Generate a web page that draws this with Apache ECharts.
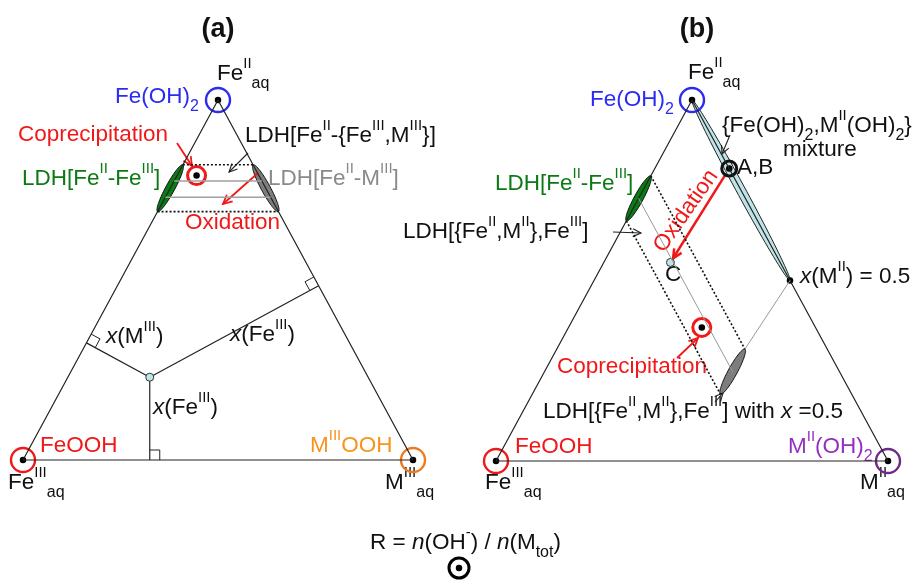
<!DOCTYPE html>
<html><head><meta charset="utf-8">
<script src="https://cdn.jsdelivr.net/npm/echarts@6/dist/echarts.min.js"></script>
<style>html,body{margin:0;padding:0;background:#fff}#c{width:919px;height:585px}</style>
</head><body><div id="c"></div>
<script>
// ---------- DATA (ternary compositions: [Fe(II) top, Fe(III) left, M right]) ----------
const triangle = [[1,0,0],[0,1,0],[0,0,1],[1,0,0]];
const vertices = [[1,0,0],[0,1,0],[0,0,1]];
// panel (a)
const aMixPoint = [0.23, 0.56, 0.21];
const aDottedLevels = [0.82, 0.69];
const aGrayLevels = [0.775, 0.73];
const aLdhFeFe = [[0.82,0.18,0],[0.69,0.31,0]];
const aLdhFeM = [[0.82,0,0.18],[0.69,0,0.31]];
const aCoprecip = [0.79,0.16,0.05];
// panel (b)
const bMixtureBand = [[1,0,0],[0.5,0,0.5]];
const bAB = [0.81,0,0.19];
const bC = [0.55,0.28,0.17];
const bCoprecip = [0.37,0.29,0.34];
const bHalf = [0.5,0,0.5];
const bLdhFeFe = [[0.79,0.21,0],[0.665,0.335,0]];
const bLdhX05 = [[0.31,0.21,0.48],[0.185,0.335,0.48]];
const bFeIIIFractions = [0.21, 0.335];
const bMidFraction = 0.2725;
const bX05 = 0.48;
// texts
const labelTexts = [
  '{t|(a)}',
  'Fe{sup|II}{sub|aq}',
  'Fe(OH){sub|2}',
  'Coprecipitation',
  'LDH[Fe{sup|II}-{n|{}Fe{sup|III},M{sup|III}}]',
  'LDH[Fe{sup|II}-Fe{sup|III}]',
  'LDH[Fe{sup|II}-M{sup|III}]',
  'Oxidation',
  '{i|x}(M{sup|III})',
  '{i|x}(Fe{sup|III})',
  '{i|x}(Fe{sup|III})',
  'FeOOH',
  'M{sup|III}OOH',
  'Fe{sup|III}{sub|aq}',
  'M{sup|III}{sub|aq}',
  '{t|(b)}',
  'Fe{sup|II}{sub|aq}',
  'Fe(OH){sub|2}',
  '{n|{}Fe(OH){sub|2},M{sup|II}(OH){sub|2}}',
  'mixture',
  'A,B',
  'LDH[Fe{sup|II}-Fe{sup|III}]',
  'LDH[{n|{}Fe{sup|II},M{sup|II}},Fe{sup|III}]',
  'Oxidation',
  'C',
  '{i|x}(M{sup|II}) = 0.5',
  'Coprecipitation',
  'LDH[{n|{}Fe{sup|II},M{sup|II}},Fe{sup|III}] with {i|x} =0.5',
  'FeOOH',
  'M{sup|II}(OH){sub|2}',
  'Fe{sup|III}{sub|aq}',
  'M{sup|II}{sub|aq}',
  'R = {i|n}(OH{sup|-}) / {i|n}(M{sub2|tot})'
];

// ---------- LAYOUT / STYLE ----------
const F = "'Liberation Sans', Arial, Helvetica, sans-serif";
const RED='#f01818', BLUE='#2b2bf2', GREEN='#0c7a14', GRAY='#8a8a8a', ORANGE='#f7941d', PURPLE='#9430c0', BLACK='#111';
const labelLayout = [
  [218,30,BLACK,'center'],
  [217,74,BLACK],[115,97,BLUE],[18,135,RED],[245,136,BLACK],[22,179,GREEN],[268,179,GRAY],[185,223,RED],
  [106,337,BLACK],[230,335,BLACK],[153,408,BLACK],[40,446,RED],[310,446,ORANGE],[8,483,BLACK],[385,483,BLACK],
  [697,30,BLACK,'center'],
  [688,73,BLACK],[590,100,BLUE],[722,126,BLACK],[783,150,BLACK],[737,168,BLACK],[495,184,GREEN],[403,232,BLACK],
  [686,211,RED,'center',55],[665,275,BLACK],[800,277,BLACK],[557,367,RED],[543,412,BLACK],
  [515,447,RED],[788,447,PURPLE],[485,483,BLACK],[860,483,BLACK],[370,543,BLACK]
];
const FS = 22.5;
function makeRich(color){
  return {
    sup:{fontFamily:F,fontSize:15,lineHeight:24.5,verticalAlign:'top',fill:color},
    sub:{fontFamily:F,fontSize:16,lineHeight:9.5,verticalAlign:'bottom',fill:color},
    sub2:{fontFamily:F,fontSize:16,lineHeight:19.5,verticalAlign:'bottom',fill:color},
    i:{fontFamily:F,fontSize:FS,fontStyle:'italic',fill:color},
    n:{fontFamily:F,fontSize:FS,fill:color},
    t:{fontFamily:F,fontSize:27,fontWeight:'bold',fill:color}
  };
}
const arrowsBlack = [[248,153,229,172],[730,135,722,154],[613,232,641,233],[715,402,723,393]];
const arrowsRed = [[177,143,192,166],[258,173,223,204],[677,358,698,338]];

const tern = c => [c[2] + 0.5*c[0], c[0]];

function lineS(g, comps, ls){
  return {type:'line', xAxisIndex:g, yAxisIndex:g, data:comps.map(tern), symbol:'none', clip:false, silent:true, lineStyle:ls};
}
function ellipseS(g, ends, hw, fill, stroke, lw){
  return {type:'custom', xAxisIndex:g, yAxisIndex:g, clip:false, silent:true,
    data:[[...tern(ends[0]), ...tern(ends[1])]],
    renderItem(p, api){
      const a=api.coord([api.value(0),api.value(1)]), b=api.coord([api.value(2),api.value(3)]);
      const cx=(a[0]+b[0])/2, cy=(a[1]+b[1])/2, dx=b[0]-a[0], dy=b[1]-a[1];
      const len=Math.hypot(dx,dy), ux=dx/len, uy=dy/len, vx=-uy, vy=ux;
      const pts=[];
      for(let k=0;k<90;k++){const t=k/90*2*Math.PI; const c=Math.cos(t)*len/2, s=Math.sin(t)*hw; pts.push([cx+c*ux+s*vx, cy+c*uy+s*vy]);}
      return {type:'polygon', shape:{points:pts}, style:{fill, stroke, lineWidth:lw}};
    }};
}
function ringS(g, pts, size, color, bw, fill){
  return {type:'scatter', xAxisIndex:g, yAxisIndex:g, clip:false, silent:true, data:pts,
    symbol:'circle', symbolSize:size, itemStyle:{color:fill||'rgba(255,255,255,0)', borderColor:color, borderWidth:bw, opacity:1}};
}
function arrowS(g, list, color, lw, head, shrinkA, shrinkB){
  return {type:'custom', xAxisIndex:g, yAxisIndex:g, clip:false, silent:true, data:list,
    renderItem(p, api){
      let a=api.coord([api.value(0),api.value(1)]), b=api.coord([api.value(2),api.value(3)]);
      const ang=Math.atan2(b[1]-a[1], b[0]-a[0]);
      if(shrinkA){a=[a[0]+shrinkA*Math.cos(ang), a[1]+shrinkA*Math.sin(ang)];}
      if(shrinkB){b=[b[0]-shrinkB*Math.cos(ang), b[1]-shrinkB*Math.sin(ang)];}
      const s=0.45;
      const p1=[b[0]-head*Math.cos(ang-s), b[1]-head*Math.sin(ang-s)], p2=[b[0]-head*Math.cos(ang+s), b[1]-head*Math.sin(ang+s)];
      return {type:'group', children:[
        {type:'line', shape:{x1:a[0],y1:a[1],x2:b[0],y2:b[1]}, style:{stroke:color, lineWidth:lw}},
        {type:'polyline', shape:{points:[p1,b,p2]}, style:{stroke:color, lineWidth:lw, fill:null}}]};
    }};
}

const series = [];
// ----- panel (a) -----
series.push(lineS(0, triangle, {color:'#222', width:1.2}));
aDottedLevels.forEach(t => series.push(lineS(0, [[t,1-t,0],[t,0,1-t]], {color:'#111', width:1.6, type:[2,2]})));
aGrayLevels.forEach(t => series.push(lineS(0, [[t,1-t,0],[t,0,1-t]], {color:'#a0a0a0', width:1.6})));
series.push({type:'custom', xAxisIndex:0, yAxisIndex:0, clip:false, silent:true, data:[tern(aMixPoint)],
  renderItem(p, api){
    const P=api.coord([api.value(0),api.value(1)]);
    const T=api.coord(tern(vertices[0])), L=api.coord(tern(vertices[1])), R=api.coord(tern(vertices[2]));
    const ch=[];
    [[T,L,T],[T,R,T],[L,R,R]].forEach(([A,B,W])=>{
      const d=[B[0]-A[0],B[1]-A[1]];
      const t=((P[0]-A[0])*d[0]+(P[1]-A[1])*d[1])/(d[0]*d[0]+d[1]*d[1]);
      const f=[A[0]+t*d[0], A[1]+t*d[1]];
      ch.push({type:'line', shape:{x1:P[0],y1:P[1],x2:f[0],y2:f[1]}, style:{stroke:'#222', lineWidth:1.2}});
      const u=(v)=>{const l=Math.hypot(v[0],v[1]);return [v[0]/l,v[1]/l];};
      const e2=u([P[0]-f[0],P[1]-f[1]]), e1=u([W[0]-f[0],W[1]-f[1]]), s=10;
      ch.push({type:'polyline', shape:{points:[[f[0]+s*e1[0],f[1]+s*e1[1]],[f[0]+s*e1[0]+s*e2[0],f[1]+s*e1[1]+s*e2[1]],[f[0]+s*e2[0],f[1]+s*e2[1]]]},
        style:{stroke:'#222', lineWidth:1, fill:null}});
    });
    return {type:'group', children:ch};
  }});
series.push(ellipseS(0, aLdhFeFe, 4.5, GREEN, '#111', 1));
series.push(ellipseS(0, aLdhFeM, 4.5, '#7d7d7d', '#111', 1));
series.push(ringS(0, [tern(vertices[0])], 24, BLUE, 2.4));
series.push(ringS(0, [tern(vertices[1])], 24, RED, 2.4));
series.push(ringS(0, [tern(vertices[2])], 24, '#f07a20', 2.4));
series.push(ringS(0, [tern(aCoprecip)], 18, RED, 3));
series.push(ringS(0, vertices.map(tern).concat([tern(aCoprecip)]), 6.5, '#000', 0, '#000'));
series.push(ringS(0, [tern(aMixPoint)], 8, '#333', 1, '#bfe6e6'));
// ----- panel (b) -----
series.push(lineS(1, triangle, {color:'#222', width:1.2}));
bFeIIIFractions.forEach(f => series.push(lineS(1, [[1-f,f,0],[1-f-bX05,f,bX05]], {color:'#111', width:1.6, type:[2,2]})));
series.push(lineS(1, [[1-bMidFraction,bMidFraction,0],[1-bMidFraction-bX05,bMidFraction,bX05]], {color:'#999', width:1}));
series.push(lineS(1, [bLdhX05[0], bHalf], {color:'#999', width:1}));
series.push(ellipseS(1, bMixtureBand, 4.5, '#bfe3e6', '#222', 1));
series.push(ellipseS(1, bLdhFeFe, 4.5, GREEN, '#111', 1));
series.push(ellipseS(1, bLdhX05, 4.5, '#7d7d7d', '#111', 1));
series.push(arrowS(1, [[...tern(bAB), ...tern(bC)]], RED, 2.5, 10, 6, 5));
series.push(ringS(1, [tern(vertices[0])], 24, BLUE, 2.4));
series.push(ringS(1, [tern(vertices[1])], 24, RED, 2.4));
series.push(ringS(1, [tern(vertices[2])], 24, '#6e2a86', 2.4));
series.push(ringS(1, [tern(bCoprecip)], 18, RED, 3));
series.push(ringS(1, [tern(bAB)], 15, '#111', 3));
series.push(ringS(1, vertices.map(tern).concat([tern(bCoprecip), tern(bAB), tern(bHalf)]), 6.5, '#000', 0, '#000'));
series.push(ringS(1, [tern(bC)], 8, '#333', 1, '#bfe6e6'));
// ----- annotations (page grid) -----
series.push(arrowS(2, arrowsBlack, '#222', 1.1, 9));
series.push(arrowS(2, arrowsRed, RED, 1.8, 10));
series.push(ringS(2, [[459,568]], 20, '#000', 3));
series.push(ringS(2, [[459,568]], 6.5, '#000', 0, '#000'));
series.push({type:'custom', xAxisIndex:2, yAxisIndex:2, clip:false, silent:true,
  data: labelLayout.map((l,i)=>[l[0],l[1],i]),
  renderItem(p, api){
    const i=api.value(2), L=labelLayout[i], pt=api.coord([L[0],L[1]]);
    return {type:'text', x:pt[0], y:pt[1], rotation:(L[4]||0)*Math.PI/180,
      style:{text:labelTexts[i], rich:makeRich(L[2]), fill:L[2], fontFamily:F, fontSize:FS, lineHeight:36,
        align:L[3]||'left', verticalAlign:'middle'}};
  }});

const chart = echarts.init(document.getElementById('c'));
chart.setOption({
  animation:false,
  backgroundColor:'#fff',
  grid:[{left:23,top:100,width:390,height:360},{left:496,top:100,width:392,height:361},{left:0,top:0,width:919,height:585}],
  xAxis:[{gridIndex:0,type:'value',min:0,max:1,show:false},{gridIndex:1,type:'value',min:0,max:1,show:false},{gridIndex:2,type:'value',min:0,max:919,show:false}],
  yAxis:[{gridIndex:0,type:'value',min:0,max:1,show:false},{gridIndex:1,type:'value',min:0,max:1,show:false},{gridIndex:2,type:'value',min:0,max:585,inverse:true,show:false}],
  series
});
</script></body></html>
